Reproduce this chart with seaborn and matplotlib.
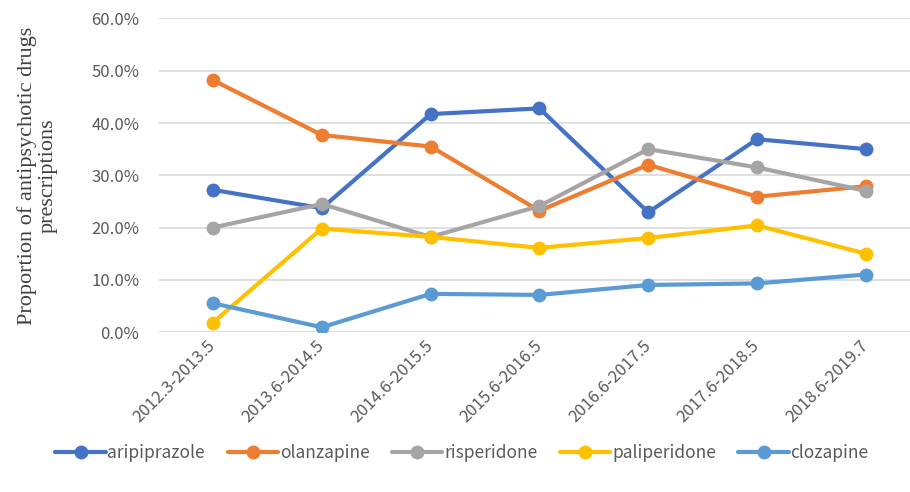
import numpy as np
import pandas as pd
import seaborn as sns
import matplotlib.pyplot as plt
import matplotlib.transforms as mtransforms
from matplotlib.ticker import FuncFormatter

periods = ["2012.3-2013.5", "2013.6-2014.5", "2014.6-2015.5", "2015.6-2016.5",
           "2016.6-2017.5", "2017.6-2018.5", "2018.6-2019.7"]
drugs = ["aripiprazole", "olanzapine", "risperidone", "paliperidone", "clozapine"]
aripiprazole = [27.2, 23.7, 41.7, 42.8, 22.9, 36.9, 35.0]
olanzapine = [48.2, 37.7, 35.5, 23.2, 32.0, 25.9, 27.9]
risperidone = [20.0, 24.5, 18.2, 24.1, 35.0, 31.5, 27.0]
paliperidone = [1.8, 19.8, 18.2, 16.1, 18.0, 20.4, 15.0]
clozapine = [5.5, 0.9, 7.3, 7.1, 9.0, 9.3, 11.0]
colors = ["#4472C4", "#ED7D31", "#A5A5A5", "#FFC000", "#5B9BD5"]

series = [aripiprazole, olanzapine, risperidone, paliperidone, clozapine]
rows = []
for name, vals in zip(drugs, series):
    for i, v in enumerate(vals):
        rows.append({"x": i, "period": periods[i], "drug": name, "value": v})
d = pd.DataFrame(rows)

sns.set_style("white")
plt.rcParams['font.family'] = ['Noto Sans CJK SC', 'DejaVu Sans']

fig = plt.figure(figsize=(9.1, 4.92), dpi=100)
ax = fig.add_axes([0.1743, 0.3252, 0.8257, 0.6372])

sns.lineplot(data=d, x="x", y="value", hue="drug", hue_order=drugs,
             palette=colors, marker="o", markersize=10, markeredgewidth=0,
             linewidth=3, ax=ax, legend=True)

ax.set_xlim(-0.5, 6.406)
ax.set_ylim(0, 60)
ax.set_yticks(np.arange(0, 61, 10))
ax.yaxis.set_major_formatter(FuncFormatter(lambda v, p: f"{v:.1f}%"))
ax.set_xticks(range(len(periods)))
ax.set_xticklabels(periods, rotation=45, ha="right", va="center",
                   rotation_mode="anchor")
# nudge the rotated labels a little to the right, like the original
offset = mtransforms.ScaledTranslation(8 / 100, 0, fig.dpi_scale_trans)
for t in ax.get_xticklabels():
    t.set_transform(t.get_transform() + offset)
ax.grid(axis="y", color="#D9D9D9", linewidth=1.2)
ax.set_axisbelow(True)
for s in ax.spines.values():
    s.set_visible(False)
ax.tick_params(axis="both", length=0, labelsize=12, labelcolor="#595959")
ax.tick_params(axis="y", pad=14)
ax.tick_params(axis="x", pad=8)
ax.set_xlabel("")
ax.set_ylabel("Proportion of antipsychotic drugs\nprescriptions",
              family="Liberation Serif", fontsize=16, color="#404040",
              linespacing=1.15)
ax.yaxis.set_label_coords(-0.134, 0.498)

h, l = ax.get_legend_handles_labels()
leg = ax.legend(h, l, loc="center", bbox_to_anchor=(462 / 910, 1 - 453 / 492),
                bbox_transform=fig.transFigure, ncol=5, frameon=False,
                fontsize=12.5, handlelength=2.9, columnspacing=1.3,
                handletextpad=0.1)
for t in leg.get_texts():
    t.set_color("#595959")

fig.savefig("out.png", dpi=100)
